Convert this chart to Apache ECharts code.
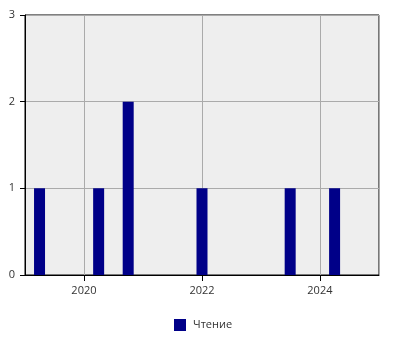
<!DOCTYPE html>
<html><head><meta charset="utf-8">
<script src="https://cdn.jsdelivr.net/npm/echarts@6/dist/echarts.min.js"></script>
<style>html,body{margin:0;padding:0;background:#fff}#c{width:400px;height:350px}</style>
</head><body><div id="c"></div>
<script>
const dates = ['2019-04-01','2020-04-01','2020-10-01','2022-01-01','2023-07-01','2024-04-01'];
const values = [1, 1, 2, 1, 1, 1];
const seriesName = 'Чтение';
const yTicks = [0, 1, 2, 3];
const xMin = '2018-12-31 23:59:59', xMax = '2025-01-01';

const font = 'Open Sans';
const chart = echarts.init(document.getElementById('c'));
const YEAR = 365.25 * 24 * 3600 * 1000;
chart.setOption({
  animation: false,
  textStyle: { fontFamily: font },
  grid: { left: 25, right: 21, top: 15, bottom: 75, show: true, backgroundColor: '#eeeeee', borderColor: '#000', borderWidth: 1 },
  legend: {
    top: 319, left: 174, padding: 0, itemWidth: 12, itemHeight: 12,
    icon: 'rect',
    textStyle: { fontFamily: font, fontSize: 11, color: '#333', padding: [0, 0, 0, 2] },
    data: [{ name: seriesName, icon: 'rect', itemStyle: { color: '#000088' } }]
  },
  xAxis: {
    type: 'time', min: xMin, max: xMax,
    minInterval: 2 * YEAR, maxInterval: 2 * YEAR,
    axisLine: { lineStyle: { color: '#000' } },
    axisTick: { show: true, length: 6, lineStyle: { color: '#000' } },
    axisLabel: { formatter: '{yyyy}', color: '#333', fontSize: 11, fontFamily: font, margin: 10, showMinLabel: false, showMaxLabel: false, hideOverlap: false },
    splitLine: { show: true, lineStyle: { color: '#aaaaaa' } }
  },
  yAxis: {
    type: 'value', min: yTicks[0], max: yTicks[yTicks.length - 1], interval: 1,
    axisLine: { show: true, lineStyle: { color: '#000' } },
    axisTick: { show: true, length: 5, lineStyle: { color: '#000' } },
    axisLabel: { color: '#333', fontSize: 11, fontFamily: font, margin: 10 },
    splitLine: { show: true, lineStyle: { color: '#aaaaaa' } }
  },
  series: [{
    name: seriesName, type: 'pictorialBar', symbol: 'rect',
    symbolSize: [11, '100%'], symbolPosition: 'start',
    itemStyle: { color: '#000088' },
    data: dates.map((d, i) => [d, values[i]])
  }]
});
</script></body></html>
